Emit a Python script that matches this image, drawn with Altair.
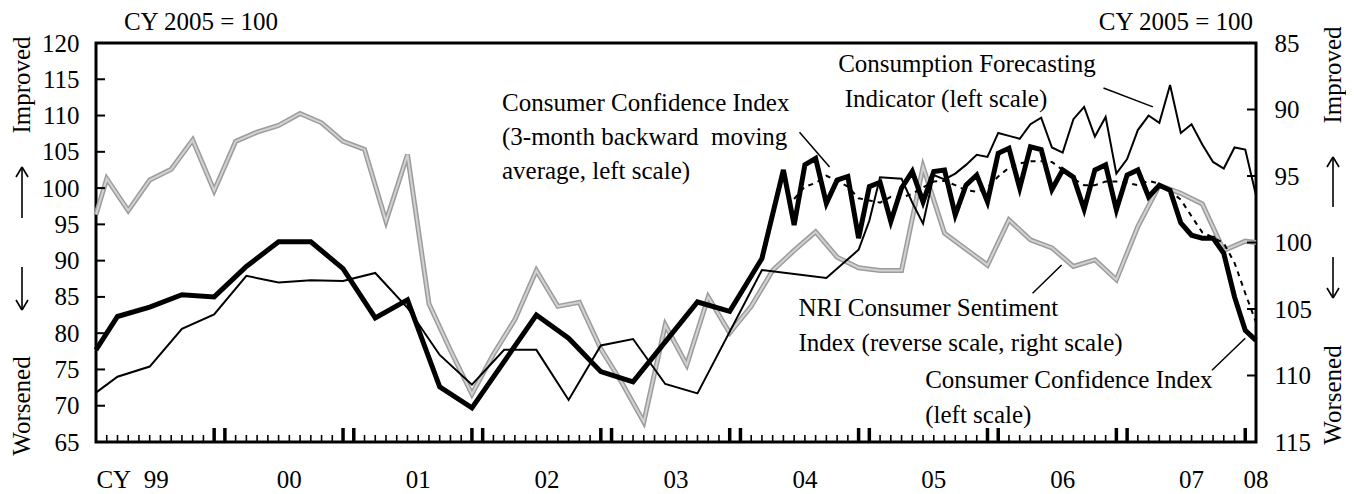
import altair as alt
import pandas as pd

FONT = "Liberation Serif"

# ---------------- data (month index: 0 = Jan 1999, 108 = Jan 2008) ----------------
cci_months = [0, 2, 5, 8, 11, 14, 17, 20, 23, 26, 29, 32, 35, 41, 44, 47, 50, 56, 59, 62,
              64, 65, 66, 67, 68, 69, 70, 71, 72, 73, 74, 75, 76, 77, 78, 79, 80, 81, 82, 83,
              84, 85, 86, 87, 88, 89, 90, 91, 92, 93, 94, 95, 96, 97, 98, 99, 100, 101, 102,
              103, 104, 105, 106, 107, 108]
cci_values = [77.7, 82.3, 83.6, 85.3, 85.0, 89.2, 92.6, 92.6, 88.9, 82.1, 84.6, 72.6, 69.7, 82.5,
              79.3, 74.7, 73.3, 84.3, 83.0, 90.3,
              102.5, 94.9, 103.2, 104.1, 97.9, 101.1, 101.6, 93.1, 100.2, 100.8, 95.4, 100.0,
              102.3, 98.1, 102.3, 102.5, 96.3, 100.4, 101.8, 98.1, 104.8, 105.5, 100.0, 105.7,
              105.3, 99.8, 102.5, 101.5, 97.1, 102.5, 103.2, 97.0, 101.8, 102.5, 98.8, 100.4,
              99.7, 95.2, 93.5, 93.1, 93.1, 91.0, 85.0, 80.4, 79.0]

ma_months = [65, 66, 67, 68, 69, 70, 71, 72, 73, 74, 75, 76, 77, 78, 79, 80, 81, 82, 83, 84, 85,
             86, 87, 88, 89, 90, 91, 92, 93, 94, 95, 96, 97, 98, 99, 100, 101, 102, 103, 104,
             105, 106, 107, 108]
ma_values = [98.5, 100.2, 100.7, 101.7, 101.0, 100.2, 98.6, 98.3, 98.0, 98.8, 98.7, 99.2, 100.1,
             100.9, 101.0, 100.4, 99.7, 99.5, 100.1, 101.6, 102.8, 103.4, 103.7, 103.7, 103.6,
             102.5, 101.3, 100.4, 100.4, 100.9, 100.9, 100.7, 100.4, 101.0, 100.6, 99.6, 98.4,
             96.1, 93.9, 93.2, 92.4, 89.7, 85.5, 81.5]

cfi_months = [0, 2, 5, 8, 11, 14, 17, 20, 23, 26, 29, 32, 35, 38, 41, 44, 47, 50, 53, 56, 62,
              68, 71, 72, 73, 74, 75, 76, 77, 78, 79, 80, 81, 82, 83, 84, 85, 86, 87, 88, 89,
              90, 91, 92, 93, 94, 95, 96, 97, 98, 99, 100, 101, 102, 103, 104, 105, 106, 107, 108]
cfi_values = [71.8, 74.0, 75.4, 80.6, 82.6, 87.9, 87.0, 87.3, 87.2, 88.3, 83.5, 77.0, 72.9, 77.7,
              77.7, 70.8, 78.3, 79.2, 73.0, 71.7, 88.7, 87.6, 91.5,
              95.5, 101.5, 101.4, 101.3, 98.0, 95.1, 101.8, 101.2, 102.0, 103.2, 104.6, 104.3,
              107.6, 107.2, 106.8, 108.8, 109.7, 105.6, 104.9, 109.5, 111.2, 107.1, 109.8, 102.0,
              104.0, 108.0, 110.0, 109.0, 114.2, 107.6, 108.8, 106.0, 103.6, 102.7, 105.6, 105.3,
              99.0]

nri_months = [0, 1, 3, 5, 7, 9, 11, 13, 15, 17, 19, 21, 23, 25, 27, 29, 31, 33, 35, 37, 39, 41,
              43, 45, 47, 49, 51, 53, 55, 57, 59, 61, 63, 65, 67, 69, 71, 73, 75, 77, 79, 81,
              83, 85, 87, 89, 91, 93, 95, 97, 99, 101, 103, 105, 107, 108]
nri_values = [97.9, 95.2, 97.6, 95.3, 94.5, 92.3, 96.1, 92.4, 91.7, 91.2, 90.3, 91.0, 92.4, 93.0,
              98.4, 93.4, 104.6, 108.1, 111.4, 108.4, 105.8, 102.1, 104.8, 104.5, 108.0, 110.6,
              113.5, 106.2, 109.2, 104.1, 106.8, 104.8, 102.1, 100.6, 99.2, 101.1, 101.9, 102.1,
              102.1, 94.3, 99.3, 100.5, 101.7, 98.3, 99.8, 100.4, 101.8, 101.3, 102.8, 98.8,
              95.7, 96.3, 97.1, 100.6, 99.9, 100.0]

year_labels = ["CY\u00a0\u00a099", "00", "01", "02", "03", "04", "05", "06", "07", "08"]
year_label_months = [3.4, 18, 30, 42, 54, 66, 78, 90, 102, 108]

left_ticks = [65, 70, 75, 80, 85, 90, 95, 100, 105, 110, 115, 120]
right_ticks = [85, 90, 95, 100, 105, 110, 115]

thick_tick_months = [11, 12, 23, 24, 35, 36, 47, 48, 59, 60, 71, 72, 83, 84, 95, 96, 107]
small_tick_months = [m for m in range(1, 108) if m not in thick_tick_months]

# annotations (data coordinates: month, left-scale value)
ann_text = ["Consumer Confidence Index", "(3-month backward\u00a0\u00a0moving", "\u00a0average, left scale)",
            "Consumption Forecasting", "Indicator (left scale)",
            "NRI Consumer Sentiment", "Index (reverse scale, right scale)",
            "Consumer Confidence Index", "(left scale)"]
ann_m = [37.8, 37.8, 37.8, 69.1, 69.7, 65.4, 65.4, 77.2, 77.2]
ann_v = [111.7, 107.0, 102.4, 117.1, 112.3, 83.5, 78.6, 73.5, 68.7]

lead_m1 = [65.5, 93.8, 87.2, 103.9]
lead_v1 = [107.7, 113.8, 85.5, 74.9]
lead_m2 = [68.3, 98.4, 89.9, 107.0]
lead_v2 = [102.9, 111.2, 89.4, 79.3]

# ---------------- tables ----------------
cci = pd.DataFrame({"m": cci_months, "v": cci_values})
ma = pd.DataFrame({"m": ma_months, "v": ma_values})
cfi = pd.DataFrame({"m": cfi_months, "v": cfi_values})
nri = pd.DataFrame({"m": nri_months, "v": nri_values})
xlab = pd.DataFrame({"m": year_label_months, "t": year_labels})
ann = pd.DataFrame({"m": ann_m, "v": ann_v, "t": ann_text})
lead = pd.DataFrame({"m": lead_m1, "v": lead_v1, "m2": lead_m2, "v2": lead_v2})
thick_df = pd.DataFrame({"m": thick_tick_months})
small_df = pd.DataFrame({"m": small_tick_months})
lt_df = pd.DataFrame({"v": left_ticks[1:-1]})
rt_df = pd.DataFrame({"v": right_ticks[1:-1]})

W, H = 1160, 399

X = alt.X("m:Q", scale=alt.Scale(domain=[0, 108], nice=False, zero=False), axis=None)


def YL(axis=None):
    return alt.Y("v:Q", scale=alt.Scale(domain=[65, 120], nice=False, zero=False), axis=axis)


def YR(axis=None):
    return alt.Y("v:Q", scale=alt.Scale(domain=[85, 115], reverse=True, nice=False, zero=False),
                 axis=axis)


left_axis = alt.Axis(orient="left", values=left_ticks, ticks=False, domain=False, grid=False,
                     title=None, labelFontSize=25, labelFont=FONT, labelColor="black",
                     labelPadding=17)
right_axis = alt.Axis(orient="right", values=right_ticks, ticks=False, domain=False, grid=False,
                      title=None, labelFontSize=25, labelFont=FONT, labelColor="black",
                      labelPadding=18)

gray_outer = alt.Chart(nri).mark_line(color="#9c9c9c", strokeWidth=5).encode(x=X, y=YR(right_axis))
gray_inner = alt.Chart(nri).mark_line(color="#d2d2d2", strokeWidth=2).encode(x=X, y=YR())
thin = alt.Chart(cfi).mark_line(color="black", strokeWidth=2).encode(x=X, y=YL())
thick = alt.Chart(cci).mark_line(color="black", strokeWidth=5, strokeJoin="miter").encode(
    x=X, y=YL(left_axis))
dashed = alt.Chart(ma).mark_line(color="black", strokeWidth=2, strokeDash=[5, 5]).encode(x=X, y=YL())

small_ticks = alt.Chart(small_df).mark_rule(color="black", strokeWidth=1.6).encode(
    x=X, y=alt.value(H), y2=alt.value(H - 7))
big_ticks = alt.Chart(thick_df).mark_rule(color="black", strokeWidth=3.5).encode(
    x=X, y=alt.value(H), y2=alt.value(H - 14))
lticks = alt.Chart(lt_df).mark_rule(color="black", strokeWidth=2).encode(
    y=YL(), x=alt.value(0), x2=alt.value(9))
rticks = alt.Chart(rt_df).mark_rule(color="black", strokeWidth=2).encode(
    y=YR(), x=alt.value(W - 9), x2=alt.value(W))

xlabels = alt.Chart(xlab).mark_text(font=FONT, fontSize=25, color="black", align="center",
                                    baseline="middle").encode(
    x=X, y=alt.value(437), text="t:N")

annot = alt.Chart(ann).mark_text(font=FONT, fontSize=25, color="black", align="left",
                                 baseline="middle").encode(x=X, y=YL(), text="t:N")
leaders = alt.Chart(lead).mark_rule(color="black", strokeWidth=1.5).encode(
    x=X, y=YL(), x2="m2:Q", y2="v2:Q")


def label(txt, x, y, align="center", angle=0):
    return alt.Chart(pd.DataFrame({"t": [txt]})).mark_text(
        font=FONT, fontSize=25, color="black", align=align, baseline="middle", angle=angle
    ).encode(x=alt.value(x), y=alt.value(y), text="t:N")


def seg(x1, y1, x2, y2, w=1.6):
    return alt.Chart(pd.DataFrame({"a": [0]})).mark_rule(color="black", strokeWidth=w).encode(
        x=alt.value(x1), y=alt.value(y1), x2=alt.value(x2), y2=alt.value(y2))


def up_arrow(x, tip, tail):
    return [seg(x, tip, x, tail), seg(x, tip, x - 6, tip + 10), seg(x, tip, x + 6, tip + 10)]


def down_arrow(x, tail, tip):
    return [seg(x, tail, x, tip), seg(x, tip, x - 6, tip - 10), seg(x, tip, x + 6, tip - 10)]


outside = [
    label("CY 2005 = 100", 105, -21),
    label("CY 2005 = 100", W - 3, -21, align="right"),
    label("Improved", -74, 42, angle=270),
    label("Worsened", -74, 363, angle=270),
    label("Improved", W + 77, 32, angle=270),
    label("Worsened", W + 77, 352, angle=270),
]
outside += up_arrow(-74, 124, 175) + down_arrow(-74, 224, 267)
outside += up_arrow(W + 77, 114, 164) + down_arrow(W + 77, 214, 255)

chart = alt.layer(
    gray_outer, gray_inner, thin, thick, dashed,
    small_ticks, big_ticks, lticks, rticks,
    xlabels, annot, leaders, *outside
).resolve_scale(y="independent").properties(
    width=W, height=H,
    padding={"left": 88, "top": 35, "right": 90, "bottom": 52},
    autosize=alt.AutoSizeParams(type="none"),
).configure_view(stroke="black", strokeWidth=3)

chart.save("out.html", embed_options={"renderer": "svg", "actions": False})
